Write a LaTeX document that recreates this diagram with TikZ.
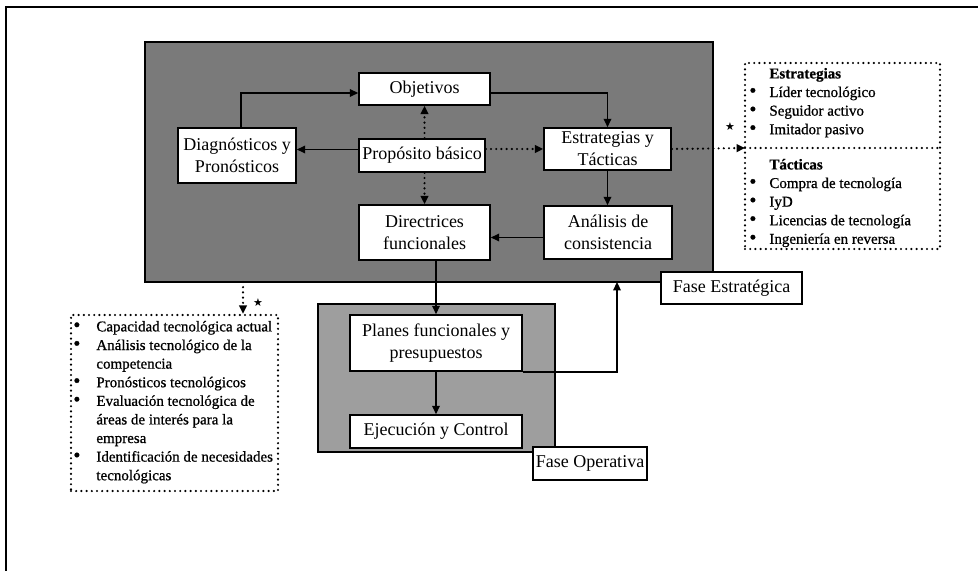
\documentclass[tikz,border=0pt]{standalone}
\usepackage{fontspec}
\setmainfont{Liberation Serif}
\newfontfamily\listfont{Liberation Serif}[FakeBold=0.8]
\newfontfamily\symfont{DejaVu Sans}
\newcommand\blt{{\fontsize{10}{9.3}\selectfont\textbullet}}
\usetikzlibrary{arrows.meta}
\begin{document}
\begin{tikzpicture}[x=0.5pt,y=-0.5pt,
  box/.style={draw=black, line width=0.8pt, fill=white, align=center, inner sep=1pt, font=\fontsize{9}{11}\selectfont},
  panel/.style={draw=black, line width=0.8pt, inner sep=0pt},
  conn/.style={line width=0.75pt, -{Triangle[length=4.2pt,width=3.8pt]}},
  dotconn/.style={line width=1.2pt, dash pattern=on 0pt off 2.6pt, line cap=round, -{Triangle[length=4.2pt,width=3.8pt]}},
  dotbox/.style={draw=black, line width=1.2pt, dash pattern=on 0pt off 2.6pt, line cap=round, inner sep=0pt},
  dotline/.style={line width=1.2pt, dash pattern=on 0pt off 2.6pt, line cap=round},
  listtext/.style={inner sep=0pt, anchor=north west, align=left, font=\listfont\fontsize{7.5}{9.3}\selectfont},
  starmark/.style={inner sep=0pt, font=\symfont\fontsize{5.5}{5.5}\selectfont}
]
\useasboundingbox (0,0) rectangle (978,571);
% outer frame
\draw[line width=1pt] (978,7) -- (6,7) -- (6,571);

% phase panels
\node[panel, fill=black!52, minimum width=284pt, minimum height=120pt] (strat) at (429,162) {};
\node[panel, fill=black!38, minimum width=118.5pt, minimum height=74pt] (oper) at (436.5,378) {};

% boxes
\node[box, minimum width=65.5pt, minimum height=16pt] (obj) at (424.5,89) {Objetivos};
\node[box, minimum width=59pt, minimum height=27.5pt] (diag) at (237,155.5) {Diagnósticos y\\Pronósticos};
\node[box, minimum width=63pt, minimum height=16.5pt] (prop) at (422,155.5) {Propósito básico};
\node[box, minimum width=63.5pt, minimum height=21pt] (estr) at (607.5,149) {Estrategias y\\Tácticas};
\node[box, minimum width=65.5pt, minimum height=27.5pt] (dir) at (424.5,232.5) {Directrices\\funcionales};
\node[box, minimum width=64pt, minimum height=26.5pt] (anal) at (608,232.5) {Análisis de\\consistencia};
\node[box, minimum width=86pt, minimum height=28pt] (plan) at (436,343) {Planes funcionales y\\presupuestos};
\node[box, minimum width=86pt, minimum height=16.5pt] (ejec) at (436,431.5) {Ejecución y Control};
\node[box, minimum width=70.5pt, minimum height=16pt] (fest) at (731.5,288) {Fase Estratégica};
\node[box, minimum width=57pt, minimum height=16.5pt] (fope) at (590,463.5) {Fase Operativa};

% right dotted box
\node[dotbox, minimum width=97.5pt, minimum height=93pt] (rbox) at (842.5,156) {};
\coordinate (sepw) at (745,148);
\coordinate (sepe) at (940,148);
\draw[dotline] (sepw) -- (sepe);
\node[listtext] (rtop) at (749,65) {\begin{tabular}{@{}p{10pt}@{}l@{}}
 & \textbf{Estrategias}\\
\blt & Líder tecnológico\\
\blt & Seguidor activo\\
\blt & Imitador pasivo
\end{tabular}};
\node[listtext] (rbot) at (749,156) {\begin{tabular}{@{}p{10pt}@{}l@{}}
 & \textbf{Tácticas}\\
\blt & Compra de tecnología\\
\blt & IyD\\
\blt & Licencias de tecnología\\
\blt & Ingeniería en reversa
\end{tabular}};

% left dotted box
\node[dotbox, minimum width=103.5pt, minimum height=88pt] (lbox) at (174.5,403) {};
\node[listtext] (ltext) at (73,318) {\begin{tabular}{@{}p{11.5pt}@{}l@{}}
\blt & Capacidad tecnológica actual\\
\blt & Análisis tecnológico de la\\
 & competencia\\
\blt & Pronósticos tecnológicos\\
\blt & Evaluación tecnológica de\\
 & áreas de interés para la\\
 & empresa\\
\blt & Identificación de necesidades\\
 & tecnológicas
\end{tabular}};

% stars
\node[starmark] (star1) at (730,127) {★};
\node[starmark] (star2) at (258,303) {★};

% connectors
\draw[conn] ([xshift=2pt]diag.north) |- ([yshift=-2pt]obj.west);
\draw[conn] ([yshift=-2pt]obj.east) -| (estr.north);
\draw[conn] ([yshift=3pt]prop.west) -- ([yshift=3pt]diag.east);
\draw[dotconn] (prop.east |- estr.west) -- (estr.west);
\draw[dotconn] (obj.south |- prop.north) -- (obj.south);
\draw[dotconn] (dir.north |- prop.south) -- (dir.north);
\draw[conn] (estr.south) -- (estr.south |- anal.north);
\draw[conn] ([yshift=-2.5pt]anal.west) -- ([yshift=-2.5pt]anal.west -| dir.east);
\draw[conn] (plan.north |- dir.south) -- (plan.north);
\draw[conn] (plan.south) -- (ejec.north);
\coordinate (sbot) at (617,282);
\draw[conn] (plan.south east) -| (sbot);
\draw[dotconn] (estr.east) -- (sepw);
\coordinate (dtop) at (243,282);
\draw[dotconn] (dtop) -- (dtop |- lbox.north);
\end{tikzpicture}
\end{document}
